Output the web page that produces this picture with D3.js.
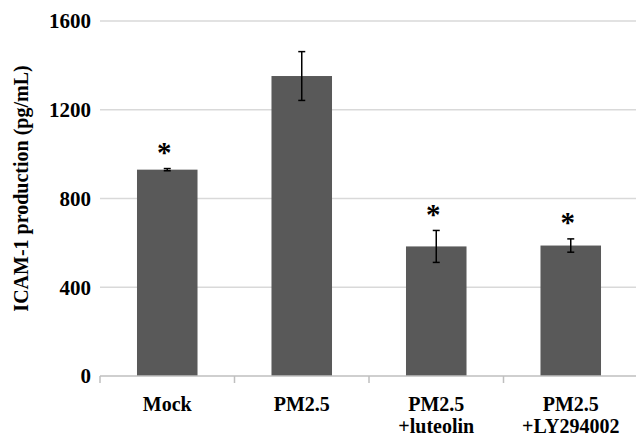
<!DOCTYPE html>
<html>
<head>
<meta charset="utf-8">
<script src="https://cdn.jsdelivr.net/npm/d3@7"></script>
<style>
  html, body { margin: 0; padding: 0; background: #fff; }
  svg { display: block; }
  text { font-family: "Liberation Serif", "Times New Roman", serif; font-weight: bold; fill: #000; }
</style>
</head>
<body>
<div id="chart"></div>
<script>
const groups = [["Mock"], ["PM2.5"], ["PM2.5", "+luteolin"], ["PM2.5", "+LY294002"]];
const means = [930, 1352, 584, 588];
const errors = [5, 110, 72, 30];
const significant = [true, false, true, true];
const yTicks = [0, 400, 800, 1200, 1600];

const width = 636, height = 439;
const margin = { top: 21, right: -2, bottom: 63, left: 100 };

const svg = d3.select("#chart")
  .append("svg")
  .attr("width", width)
  .attr("height", height);

const x = d3.scaleBand()
  .domain(d3.range(groups.length))
  .range([margin.left, width - margin.right])
  .paddingInner(0.55)
  .paddingOuter(0.275);

const y = d3.scaleLinear()
  .domain([0, 1600])
  .range([height - margin.bottom, margin.top]);

const cx = (i) => x(i) + x.bandwidth() / 2;

// gridlines
svg.append("g")
  .selectAll("line")
  .data(yTicks.slice(1))
  .enter()
  .append("line")
  .attr("x1", margin.left)
  .attr("x2", width)
  .attr("y1", (d) => y(d))
  .attr("y2", (d) => y(d))
  .attr("stroke", "#d9d9d9")
  .attr("stroke-width", 1.3);

// y tick labels
svg.append("g")
  .selectAll("text")
  .data(yTicks)
  .enter()
  .append("text")
  .attr("x", 91)
  .attr("y", (d) => y(d))
  .attr("dy", "0.35em")
  .attr("text-anchor", "end")
  .attr("font-size", 21)
  .text((d) => d);

// y title
svg.append("text")
  .attr("transform", `translate(28,${(60 + 317) / 2}) rotate(-90)`)
  .attr("text-anchor", "middle")
  .attr("font-size", 20)
  .text("ICAM-1 production (pg/mL)");

// bars
svg.append("g")
  .selectAll("rect")
  .data(means)
  .enter()
  .append("rect")
  .attr("x", (d, i) => x(i))
  .attr("width", x.bandwidth())
  .attr("y", (d) => y(d))
  .attr("height", (d) => y(0) - y(d))
  .attr("fill", "#595959");

// x axis line and category ticks
const base = y(0);
const step = x.step();
svg.append("line")
  .attr("x1", margin.left)
  .attr("x2", width)
  .attr("y1", base)
  .attr("y2", base)
  .attr("stroke", "#bfbfbf")
  .attr("stroke-width", 1.5);

svg.append("g")
  .selectAll("line")
  .data(d3.range(groups.length + 1))
  .enter()
  .append("line")
  .attr("x1", (i) => margin.left + i * step)
  .attr("x2", (i) => margin.left + i * step)
  .attr("y1", base)
  .attr("y2", base + 7)
  .attr("stroke", "#bfbfbf")
  .attr("stroke-width", 1.5);

// error bars
const err = svg.append("g")
  .attr("stroke", "#000")
  .attr("stroke-width", 1.5)
  .selectAll("g")
  .data(means)
  .enter()
  .append("g");

err.append("line")
  .attr("x1", (d, i) => cx(i))
  .attr("x2", (d, i) => cx(i))
  .attr("y1", (d, i) => y(d - errors[i]))
  .attr("y2", (d, i) => y(d + errors[i]));

[1, -1].forEach((sign) => {
  err.append("line")
    .attr("x1", (d, i) => cx(i) - 3.5)
    .attr("x2", (d, i) => cx(i) + 3.5)
    .attr("y1", (d, i) => y(d + sign * errors[i]))
    .attr("y2", (d, i) => y(d + sign * errors[i]));
});

// significance stars
const starred = means
  .map((m, i) => ({ i, top: m + errors[i] }))
  .filter((d) => significant[d.i]);

svg.append("g")
  .selectAll("text")
  .data(starred)
  .enter()
  .append("text")
  .attr("x", (d) => cx(d.i) - 3)
  .attr("y", (d) => y(d.top) - 21)
  .attr("dy", "0.5em")
  .attr("text-anchor", "middle")
  .attr("font-size", 29)
  .attr("font-weight", "normal")
  .text("*");

// category labels
const labels = svg.append("g")
  .selectAll("text")
  .data(groups)
  .enter()
  .append("text")
  .attr("text-anchor", "middle")
  .attr("font-size", 20);

labels.selectAll("tspan")
  .data((d, i) => d.map((line, j) => ({ line, j, i })))
  .enter()
  .append("tspan")
  .attr("x", (d) => cx(d.i))
  .attr("y", (d) => 411 + d.j * 22)
  .text((d) => d.line);
</script>
</body>
</html>
